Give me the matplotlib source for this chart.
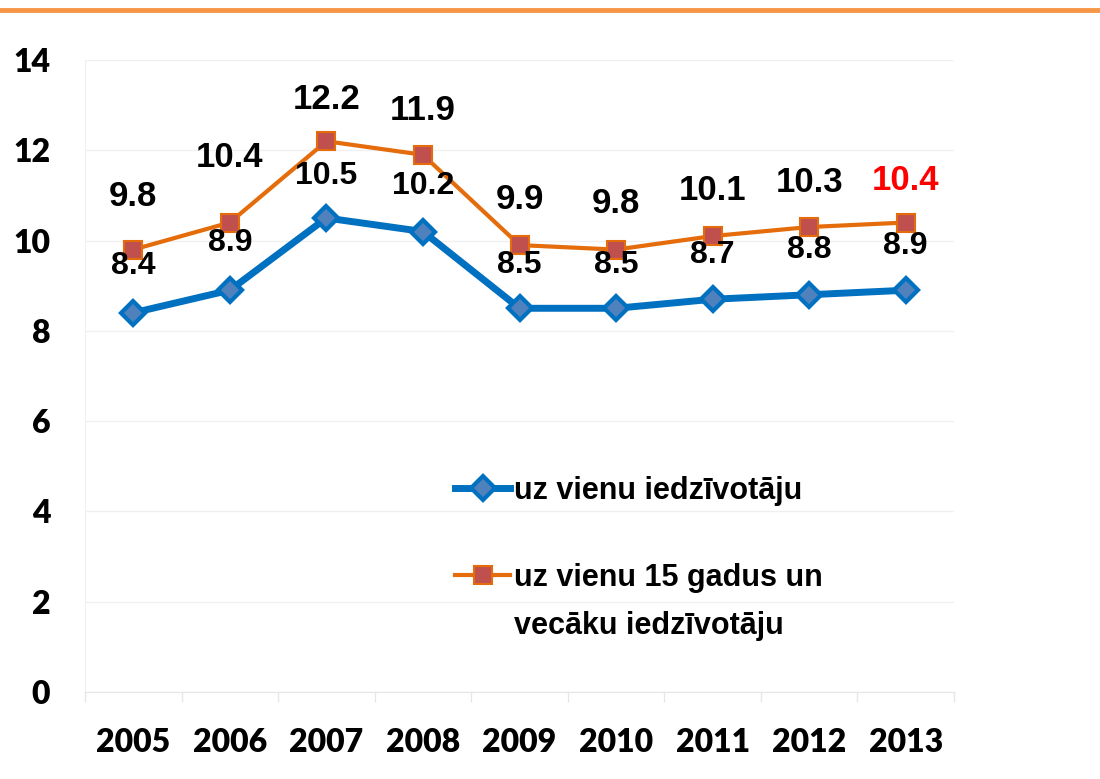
import matplotlib.pyplot as plt
from matplotlib.lines import Line2D

years = ["2005", "2006", "2007", "2008", "2009", "2010", "2011", "2012", "2013"]
per_resident = [8.4, 8.9, 10.5, 10.2, 8.5, 8.5, 8.7, 8.8, 8.9]
per_resident_15plus = [9.8, 10.4, 12.2, 11.9, 9.9, 9.8, 10.1, 10.3, 10.4]
label_blue = "uz vienu iedzīvotāju"
label_orange = ["uz vienu 15 gadus un", "vecāku iedzīvotāju"]

# label offsets above the points, in points
off_orange = [38, 47, 30, 32, 33, 33, 33, 32, 30]
off_blue = [34, 34, 30, 33, 31, 31, 32, 32, 32]

BLUE = "#0070C0"
BLUE_FACE = "#4F81BD"
ORANGE = "#E46C0A"
ORANGE_FACE = "#C0504D"
ARIAL = ["Liberation Sans", "DejaVu Sans"]

fig = plt.figure(figsize=(11, 7.79), dpi=100)
ax = fig.add_axes([85 / 1100, 1 - 692 / 779, (954 - 85) / 1100, (692 - 60) / 779])

# orange rule at the top of the slide
fig.add_artist(Line2D([0, 1], [1 - 10 / 779, 1 - 10 / 779], transform=fig.transFigure,
                      color="#F79646", lw=3.5))

x = list(range(len(years)))
l1, = ax.plot(x, per_resident, color=BLUE, lw=5, marker="D", ms=12,
              mfc=BLUE_FACE, mec=BLUE, mew=3, zorder=3)
l2, = ax.plot(x, per_resident_15plus, color=ORANGE, lw=3, marker="s", ms=13,
              mfc=ORANGE_FACE, mec=ORANGE, mew=1.5, zorder=4)

for i, v in enumerate(per_resident):
    ax.annotate(f"{v:.1f}", (i, v), xytext=(0, off_blue[i]), textcoords="offset points",
                ha="center", va="center", fontsize=23, fontweight="bold",
                family=ARIAL, color="black", zorder=5)
for i, v in enumerate(per_resident_15plus):
    c = "#FF0000" if i == len(years) - 1 else "black"
    ax.annotate(f"{v:.1f}", (i, v), xytext=(0, off_orange[i]), textcoords="offset points",
                ha="center", va="center", fontsize=25, fontweight="bold",
                family=ARIAL, color=c, zorder=5)

ax.set_xlim(-0.5, len(years) - 0.5)
ax.set_ylim(0, 14)
ax.set_yticks(range(0, 15, 2))
ax.set_xticks(x)
ax.set_xticklabels(years)
ax.set_xticks([i - 0.5 for i in range(len(years) + 1)], minor=True)
ax.tick_params(axis="x", which="major", length=0, pad=26, labelsize=23)
ax.tick_params(axis="x", which="minor", length=7, width=1, color="#E6E6E6")
ax.tick_params(axis="y", length=0, pad=25, labelsize=23)
for lab in ax.get_xticklabels() + ax.get_yticklabels():
    lab.set_fontfamily("Lato")
    lab.set_fontweight("heavy")

ax.grid(axis="y", color="#F0F0F0", lw=1)
ax.set_axisbelow(True)
for s in ["top", "right"]:
    ax.spines[s].set_visible(False)
ax.spines["left"].set_color("#F0F0F0")
ax.spines["bottom"].set_color("#E6E6E6")

legprops = dict(family="Liberation Sans", weight="bold", size=22)
leg1 = fig.legend([l1], [label_blue], loc="center left",
                  bbox_to_anchor=(455 / 1100, 1 - 491 / 779), frameon=False,
                  prop=legprops, handlelength=1.8, handletextpad=0.12,
                  borderpad=0, borderaxespad=0)
blank = Line2D([], [], color="none")
leg2 = fig.legend([l2, blank], label_orange, loc="upper left",
                  bbox_to_anchor=(455 / 1100, 1 - 563 / 779), frameon=False,
                  prop=legprops, handlelength=1.8, handletextpad=0.12,
                  labelspacing=0.6, borderpad=0, borderaxespad=0)

fig.savefig("out.png", dpi=100)
